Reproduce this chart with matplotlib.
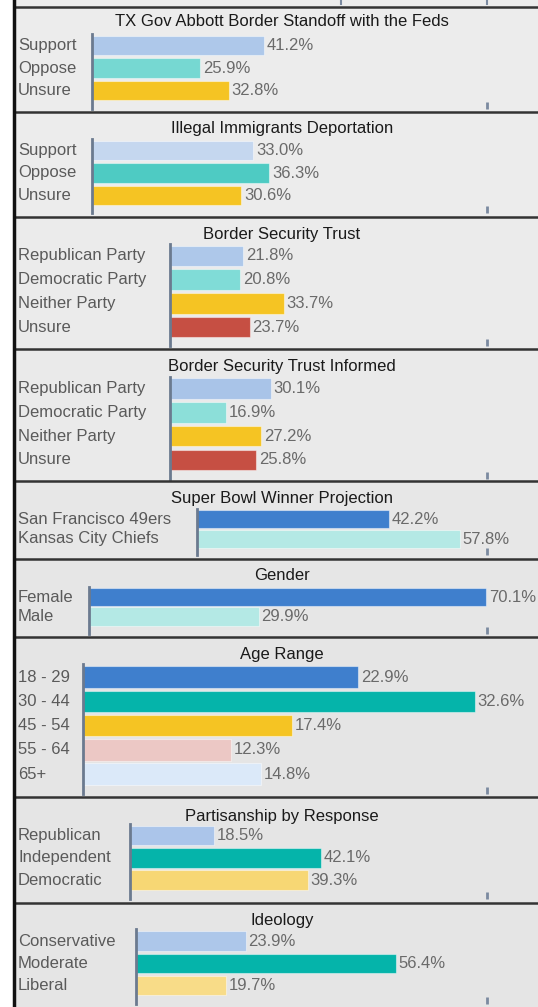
import matplotlib.pyplot as plt
import matplotlib.transforms as mtransforms
from matplotlib.patches import Rectangle
from matplotlib.lines import Line2D

plt.rcParams['font.family'] = ['Liberation Sans', 'DejaVu Sans']

W, H = 538, 1007

# ---- data ----
abbott_title = 'TX Gov Abbott Border Standoff with the Feds'
abbott_labels = ['Support', 'Oppose', 'Unsure']
abbott_values = [41.2, 25.9, 32.8]

deport_title = 'Illegal Immigrants Deportation'
deport_labels = ['Support', 'Oppose', 'Unsure']
deport_values = [33.0, 36.3, 30.6]

trust_title = 'Border Security Trust'
trust_labels = ['Republican Party', 'Democratic Party', 'Neither Party', 'Unsure']
trust_values = [21.8, 20.8, 33.7, 23.7]

informed_title = 'Border Security Trust Informed'
informed_labels = ['Republican Party', 'Democratic Party', 'Neither Party', 'Unsure']
informed_values = [30.1, 16.9, 27.2, 25.8]

bowl_title = 'Super Bowl Winner Projection'
bowl_labels = ['San Francisco 49ers', 'Kansas City Chiefs']
bowl_values = [42.2, 57.8]

gender_title = 'Gender'
gender_labels = ['Female', 'Male']
gender_values = [70.1, 29.9]

age_title = 'Age Range'
age_labels = ['18 - 29', '30 - 44', '45 - 54', '55 - 64', '65+']
age_values = [22.9, 32.6, 17.4, 12.3, 14.8]

party_title = 'Partisanship by Response'
party_labels = ['Republican', 'Independent', 'Democratic']
party_values = [18.5, 42.1, 39.3]

ideo_title = 'Ideology'
ideo_labels = ['Conservative', 'Moderate', 'Liberal']
ideo_values = [23.9, 56.4, 19.7]

panels = [
    (abbott_title, abbott_labels, abbott_values, ['#aec8ea', '#76d8d2', '#f5c423']),
    (deport_title, deport_labels, deport_values, ['#c5d7ef', '#4ecbc3', '#f5c423']),
    (trust_title, trust_labels, trust_values, ['#aec8ea', '#80dcd7', '#f5c423', '#c64f43']),
    (informed_title, informed_labels, informed_values, ['#a9c4e8', '#8cdfd9', '#f5c423', '#c64f43']),
    (bowl_title, bowl_labels, bowl_values, ['#3f7fcd', '#b4e9e5']),
    (gender_title, gender_labels, gender_values, ['#3f7fcd', '#b4e9e5']),
    (age_title, age_labels, age_values, ['#3f7fcd', '#05b4aa', '#f5c423', '#ecc8c5', '#dbe9f9']),
    (party_title, party_labels, party_values, ['#abc5ea', '#05b4aa', '#f7d774']),
    (ideo_title, ideo_labels, ideo_values, ['#adc7ea', '#05b4aa', '#f8dc88']),
]

# ---- layout (pixels) ----
layout = [
    dict(top=7, bottom=112, title_y=22, y0=45.5, pitch=22.5, bar_h=19.5, ax_top=34, ax_bot=109, ax_x=92, xmax=94.7, bg='#ececec'),
    dict(top=112, bottom=217, title_y=129, y0=150.5, pitch=22.5, bar_h=19.5, ax_top=139, ax_bot=213, ax_x=92, xmax=80.9, bg='#ececec'),
    dict(top=217, bottom=349, title_y=234, y0=256, pitch=23.7, bar_h=20.5, ax_top=244, ax_bot=346, ax_x=170, xmax=94.1, bg='#ebebeb'),
    dict(top=349, bottom=481, title_y=367, y0=388.5, pitch=23.8, bar_h=20.5, ax_top=377, ax_bot=479, ax_x=170, xmax=94.9, bg='#eaeaea'),
    dict(top=481, bottom=559, title_y=499, y0=519, pitch=20, bar_h=18.5, ax_top=509, ax_bot=555, ax_x=196.6, xmax=63.8, bg='#e7e7e7'),
    dict(top=559, bottom=637, title_y=576, y0=597, pitch=19.5, bar_h=18.5, ax_top=587, ax_bot=634, ax_x=89.2, xmax=70.2, bg='#e6e6e6'),
    dict(top=637, bottom=797, title_y=654, y0=677, pitch=24.3, bar_h=21.5, ax_top=664, ax_bot=794, ax_x=83.4, xmax=33.6, bg='#e5e5e5'),
    dict(top=797, bottom=903, title_y=816, y0=835.5, pitch=22.3, bar_h=19.5, ax_top=824, ax_bot=899, ax_x=130.4, xmax=78.9, bg='#e5e5e5'),
    dict(top=903, bottom=1007, title_y=920, y0=941, pitch=22.3, bar_h=19.5, ax_top=929, ax_bot=1004, ax_x=135.6, xmax=76.2, bg='#e5e5e5'),
]

AXIS_COLOR = '#6b7a8f'
TICK_X = 487


def fx(px):
    return px / W


def fy(py):
    return 1 - py / H


fig = plt.figure(figsize=(W / 100, H / 100), dpi=100)
fig.patch.set_facecolor('white')

# top strip left over from the previous panel
fig.add_artist(Rectangle((fx(14), fy(7)), 1 - fx(14), 7 / H, transform=fig.transFigure,
                         facecolor='#ececec', edgecolor='none', zorder=-5))
for mx in (341, TICK_X):
    fig.add_artist(Line2D([fx(mx), fx(mx)], [fy(0), fy(4)], transform=fig.transFigure,
                          color='#7b8aa0', lw=1.5))

for (title, labels, values, colors), lo in zip(panels, layout):
    fig.add_artist(Rectangle((fx(14), fy(lo['bottom'])), 1 - fx(14), (lo['bottom'] - lo['top']) / H,
                             transform=fig.transFigure, facecolor=lo['bg'], edgecolor='none',
                             zorder=-5))
    fig.text(fx(282), fy(lo['title_y']), title, ha='center', va='center',
             fontsize=12, color='#1a1a1a')

    ax = fig.add_axes([fx(lo['ax_x']), fy(lo['ax_bot']), fx(TICK_X) - fx(lo['ax_x']),
                       (lo['ax_bot'] - lo['ax_top']) / H])
    ax.set_facecolor('none')
    ypos = list(range(len(values)))
    ax.barh(ypos, values, height=lo['bar_h'] / lo['pitch'], color=colors,
            edgecolor=(1, 1, 1, 0.45), linewidth=0.8)
    ax.set_xlim(0, lo['xmax'])
    ax.set_ylim((lo['ax_bot'] - lo['y0']) / lo['pitch'], (lo['ax_top'] - lo['y0']) / lo['pitch'])
    for s in ('top', 'right', 'bottom'):
        ax.spines[s].set_visible(False)
    ax.spines['left'].set_color(AXIS_COLOR)
    ax.spines['left'].set_linewidth(2)
    ax.set_yticks([])
    ax.set_xticks([lo['xmax']])
    ax.tick_params(axis='x', direction='in', length=5, width=2, color='#7b8aa0',
                   labelbottom=False)

    trans = mtransforms.blended_transform_factory(fig.transFigure, ax.transData)
    for i, (lab, v) in enumerate(zip(labels, values)):
        ax.text(fx(18), i, lab, transform=trans, ha='left', va='center',
                fontsize=12, color='#5a5a5a')
        ax.annotate(f'{v:.1f}%', (v, i), xytext=(2, 0), textcoords='offset points',
                    ha='left', va='center', fontsize=12, color='#6a6a6a',
                    annotation_clip=False)

# panel separators and left frame
for b in [7] + [lo['bottom'] for lo in layout[:-1]]:
    fig.add_artist(Line2D([fx(14), 1], [fy(b), fy(b)], transform=fig.transFigure,
                          color='#333333', lw=1.8))
fig.add_artist(Line2D([fx(14), fx(14)], [0, 1], transform=fig.transFigure,
                      color='#111111', lw=2.5))

fig.savefig('out.png', dpi=100)
